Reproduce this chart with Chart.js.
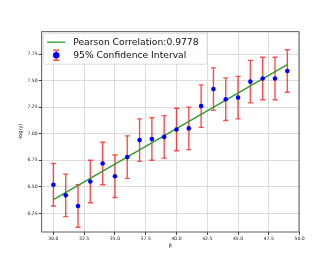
<!DOCTYPE html>
<html><head><meta charset="utf-8">
<script src="https://cdn.jsdelivr.net/npm/chart.js@4.4.0/dist/chart.umd.min.js"></script>
<style>html,body{margin:0;padding:0;background:#fff}#c{display:block}</style>
</head><body>
<canvas id="c" width="332" height="266"></canvas>
<script>
const xValues = [30,31,32,33,34,35,36,37,38,39,40,41,42,43,44,45,46,47,48,49];
const yValues = [6.52,6.42,6.32,6.55,6.72,6.60,6.78,6.94,6.95,6.97,7.04,7.05,7.26,7.42,7.325,7.34,7.49,7.52,7.52,7.59];
const errValues = [0.2,0.2,0.2,0.2,0.2,0.2,0.2,0.2,0.2,0.2,0.2,0.2,0.2,0.2,0.2,0.2,0.2,0.2,0.2,0.2];
const fitX = [30,49];
const fitY = [6.38,7.65];
const xTicks = [30.0,32.5,35.0,37.5,40.0,42.5,45.0,47.5,50.0];
const yTicks = [6.25,6.50,6.75,7.00,7.25,7.50,7.75];
const legendLabels = ['Pearson Correlation:0.9778','95% Confidence Interval'];
const xTitle = 'β';
const yTitle = '-log(y)';

const ERR_COLOR = 'rgba(255,0,0,0.7)';
const FONT = '"DejaVu Sans", sans-serif';

function drawErrBar(ctx, x, y1, y2, cap){
  ctx.beginPath();
  ctx.moveTo(x, y1); ctx.lineTo(x, y2);
  ctx.moveTo(x-cap, y1); ctx.lineTo(x+cap, y1);
  ctx.moveTo(x-cap, y2); ctx.lineTo(x+cap, y2);
  ctx.stroke();
}

const errPlugin = {
  id: 'errbars',
  beforeDatasetsDraw(chart){
    const {ctx, scales:{x, y}} = chart;
    ctx.save();
    ctx.strokeStyle = ERR_COLOR;
    ctx.lineWidth = 1.4;
    xValues.forEach((xv,i)=>{
      const px = x.getPixelForValue(xv);
      drawErrBar(ctx, px, y.getPixelForValue(yValues[i]+errValues[i]), y.getPixelForValue(yValues[i]-errValues[i]), 2.5);
    });
    ctx.restore();
  },
  afterDraw(chart){
    const {ctx, chartArea:a} = chart;
    ctx.save();
    ctx.strokeStyle = '#333';
    ctx.lineWidth = 0.8;
    ctx.strokeRect(a.left, a.top, a.right-a.left, a.bottom-a.top);
    const lx = a.left+1.5, ly = a.top+1.5, lw = 164, lh = 31;
    ctx.fillStyle = 'rgba(255,255,255,0.85)';
    ctx.strokeStyle = '#d0d0d0';
    ctx.lineWidth = 0.8;
    ctx.beginPath();
    ctx.roundRect(lx, ly, lw, lh, 2);
    ctx.fill(); ctx.stroke();
    ctx.strokeStyle = '#2a9a2a';
    ctx.lineWidth = 1.3;
    ctx.beginPath(); ctx.moveTo(lx+4, ly+9); ctx.lineTo(lx+22, ly+9); ctx.stroke();
    ctx.strokeStyle = ERR_COLOR;
    ctx.lineWidth = 1.4;
    drawErrBar(ctx, lx+13, ly+17, ly+27, 3);
    ctx.fillStyle = '#0000ff';
    ctx.beginPath(); ctx.arc(lx+13, ly+22, 3.2, 0, Math.PI*2); ctx.fill();
    ctx.fillStyle = '#111';
    ctx.font = '9.2px ' + FONT;
    ctx.textBaseline = 'middle';
    ctx.textAlign = 'left';
    ctx.fillText(legendLabels[0], lx+30, ly+9);
    ctx.fillText(legendLabels[1], lx+30, ly+22);
    ctx.restore();
  }
};

new Chart(document.getElementById('c'), {
  type: 'scatter',
  data: {
    datasets: [
      {
        type: 'line',
        data: fitX.map((v,i)=>({x:v, y:fitY[i]})),
        borderColor: '#2a9a2a',
        borderWidth: 1.3,
        pointRadius: 0,
        fill: false,
        order: 2
      },
      {
        data: xValues.map((v,i)=>({x:v, y:yValues[i]})),
        backgroundColor: '#0000ff',
        borderColor: '#0000ff',
        pointRadius: 2.3,
        borderWidth: 0,
        order: 1
      }
    ]
  },
  options: {
    responsive: false,
    animation: false,
    devicePixelRatio: 1,
    layout: { padding: { left: 18, top: 31.7, right: 33, bottom: 17 } },
    plugins: { legend: { display: false }, tooltip: { enabled: false } },
    scales: {
      x: {
        type: 'linear', min: 29.05, max: 49.95,
        afterBuildTicks(s){ s.ticks = xTicks.map(v=>({value:v})); },
        afterFit(s){ s.height = 17; },
        grid: { color: '#d8d8d8', lineWidth: 0.9, tickColor: '#333', tickLength: 3, drawTicks: true },
        border: { display: false },
        ticks: { font: { size: 4.6, family: FONT }, color: '#222', padding: 1, maxRotation: 0, autoSkip: false,
          callback: v => v.toFixed(1) },
        title: { display: true, text: xTitle, font: { size: 5, family: FONT }, color: '#222', padding: { top: 0, bottom: 0 } }
      },
      y: {
        type: 'linear', min: 6.075, max: 7.96,
        afterBuildTicks(s){ s.ticks = yTicks.map(v=>({value:v})); },
        afterFit(s){ s.width = 23.7; },
        grid: { color: '#d8d8d8', lineWidth: 0.9, tickColor: '#333', tickLength: 3, drawTicks: true },
        border: { display: false },
        ticks: { font: { size: 4.6, family: FONT }, color: '#222', padding: 1, autoSkip: false,
          callback: v => v.toFixed(2) },
        title: { display: true, text: yTitle, font: { size: 5, family: FONT }, color: '#222', padding: { top: 0, bottom: 0 } }
      }
    }
  },
  plugins: [errPlugin]
});
</script>
</body></html>
